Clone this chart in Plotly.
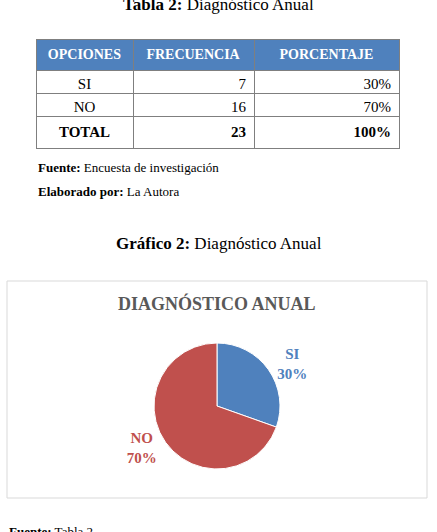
import plotly.graph_objects as go

W, H = 437, 532

# Data
opciones = ["SI", "NO", "TOTAL"]
frecuencia = [7, 16, 23]
porcentaje = ["30%", "70%", "100%"]
pie_labels = ["SI", "NO"]
pie_values = [7, 16]
pie_colors = ["#4F81BD", "#C0504D"]
header = ["OPCIONES", "FRECUENCIA", "PORCENTAJE"]

SERIF = "Liberation Serif, Times New Roman, serif"

def py(px):
    return 1 - px / H

def px_x(px):
    return px / W

def fmt(v, bold):
    return f"<b>{v}</b>" if bold else str(v)

col1 = [fmt(v, i == 2) for i, v in enumerate(opciones)]
col2 = [fmt(v, i == 2) for i, v in enumerate(frecuencia)]
col3 = [fmt(v, i == 2) for i, v in enumerate(porcentaje)]

fig = go.Figure()

fig.add_trace(go.Table(
    domain=dict(x=[px_x(36), px_x(399)], y=[py(150), py(39)]),
    columnwidth=[97, 121, 145],
    header=dict(
        values=[f"<b>{h}</b>" for h in header],
        fill_color="#4F81BD",
        line_color="#7F7F7F",
        align="center",
        font=dict(family=SERIF, size=14, color="white"),
        height=22,
    ),
    cells=dict(
        values=[col1, col2, col3],
        fill_color="white",
        line_color="#7F7F7F",
        align=["center", "right", "right"],
        font=dict(family=SERIF, size=15, color="black"),
        height=23,
    ),
))

fig.add_trace(go.Pie(
    labels=pie_labels,
    values=pie_values,
    sort=False,
    direction="clockwise",
    rotation=0,
    marker=dict(colors=pie_colors, line=dict(color="white", width=1)),
    texttemplate="<b>%{label}<br>%{percent:.0%}</b>",
    textposition="outside",
    outsidetextfont=dict(family=SERIF, size=15, color=pie_colors),
    domain=dict(x=[px_x(140), px_x(294)], y=[py(469), py(343)]),
    showlegend=False,
    hoverinfo="label+percent",
))

fig.add_shape(type="rect", xref="paper", yref="paper",
              x0=px_x(7), x1=px_x(427), y0=py(498), y1=py(281),
              line=dict(color="#D9D9D9", width=1), fillcolor="rgba(0,0,0,0)", layer="below")

annots = [
    dict(text="<b>Tabla 2:</b> Diagnóstico Anual", x=0.5, y=py(4), xanchor="center", size=17, color="black"),
    dict(text="<b>Fuente:</b> Encuesta de investigación", x=px_x(36), y=py(167), xanchor="left", size=13, color="black"),
    dict(text="<b>Elaborado por:</b> La Autora", x=px_x(36), y=py(191), xanchor="left", size=13, color="black"),
    dict(text="<b>Gráfico 2:</b> Diagnóstico Anual", x=0.5, y=py(243), xanchor="center", size=17, color="black"),
    dict(text="<b>DIAGNÓSTICO ANUAL</b>", x=px_x(217), y=py(303), xanchor="center", size=18, color="#595959"),
    dict(text="<b>Fuente:</b> Tabla 2", x=px_x(7), y=py(531), xanchor="left", size=13, color="black"),
]
for a in annots:
    fig.add_annotation(text=a["text"], x=a["x"], y=a["y"], xref="paper", yref="paper",
                       xanchor=a["xanchor"], yanchor="middle", showarrow=False,
                       font=dict(family=SERIF, size=a["size"], color=a["color"]))

fig.update_layout(
    width=W, height=H,
    margin=dict(l=0, r=0, t=0, b=0),
    paper_bgcolor="white",
    plot_bgcolor="white",
)

fig.write_html("out.html")
